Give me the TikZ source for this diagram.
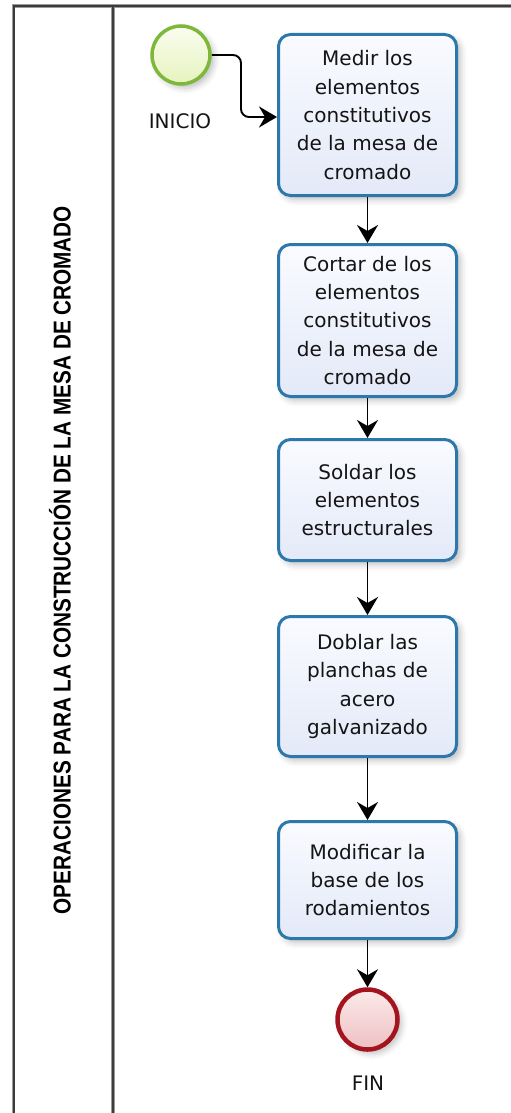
\documentclass[tikz,border=0pt]{standalone}
\usepackage{fontspec}
\setmainfont{DejaVu Sans}
\newfontfamily\titlefont{Liberation Sans}
\usetikzlibrary{arrows.meta,shadows.blur}
\definecolor{boxblue}{HTML}{2C78AB}
\definecolor{boxtop}{HTML}{FAFBFF}
\definecolor{boxbot}{HTML}{E3E9F8}
\definecolor{startgreen}{HTML}{7DB83A}
\definecolor{starttop}{HTML}{FBFDF0}
\definecolor{startbot}{HTML}{E6F3BE}
\definecolor{endred}{HTML}{A3141F}
\definecolor{endtop}{HTML}{FBEAEA}
\definecolor{endbot}{HTML}{EEC0C2}
\definecolor{framedark}{HTML}{3C3C3C}
\definecolor{framelight}{HTML}{9A9A9A}
\definecolor{txt}{HTML}{141414}
\tikzset{
  task/.style={draw=boxblue, line width=3pt, rounded corners=12pt,
    top color=boxtop, bottom color=boxbot, minimum width=178pt,
    inner sep=0pt, align=center, text=txt,
    font=\fontsize{20pt}{28.4pt}\selectfont,
    blur shadow={shadow xshift=4pt, shadow yshift=-4pt, shadow blur radius=6pt, shadow opacity=25}},
  startev/.style={circle, draw=startgreen, line width=3.5pt, minimum size=58pt,
    top color=starttop, bottom color=startbot, inner sep=0pt,
    blur shadow={shadow xshift=4pt, shadow yshift=-4pt, shadow blur radius=6pt, shadow opacity=25}},
  endev/.style={circle, draw=endred, line width=4.5pt, minimum size=60pt,
    top color=endtop, bottom color=endbot, inner sep=0pt,
    blur shadow={shadow xshift=4pt, shadow yshift=-4pt, shadow blur radius=6pt, shadow opacity=25}},
  lbl/.style={text=txt, inner sep=0pt, font=\fontsize{20pt}{24pt}\selectfont},
  flow/.style={draw=black, line width=1.9pt, -{Stealth[length=18pt, width=21pt, inset=6pt]}},
  frameunder/.style={draw=framelight, line width=3.6pt},
  frametop/.style={draw=framedark, line width=2pt},
}
\begin{document}
\begin{tikzpicture}[x=1pt, y=-1pt]
\useasboundingbox (0,0) rectangle (511,1113);
\begin{scope}
  \clip (0,0) rectangle (511,1113);
  \draw[frameunder] (13.5,1120) -- (13.5,6) -- (520,6);
  \draw[frameunder] (113,6) -- (113,1120);
  \draw[frametop] (13.5,1120) -- (13.5,6) -- (520,6);
  \draw[frametop] (113,6) -- (113,1120);
\end{scope}

\node[rotate=90, anchor=base, text=black, inner sep=0pt,
  font=\titlefont\bfseries\fontsize{24.4pt}{28pt}\selectfont] (title) at (70.5,560)
  {\scalebox{0.85}[1]{OPERACIONES PARA LA CONSTRUCCIÓN DE LA MESA DE CROMADO}};

\node[startev] (s) at (181,55) {};
\node[lbl] (sl) at (180,121) {INICIO};

\node[task, minimum height=161pt] (t1) at (367.5,115)
  {Medir los\\elementos\\constitutivos\\de la mesa de\\cromado};
\node[task, minimum height=152pt] (t2) at (367.5,320.5)
  {Cortar de los\\elementos\\constitutivos\\de la mesa de\\cromado};
\node[task, minimum height=121pt] (t3) at (367.5,500)
  {Soldar los\\elementos\\estructurales};
\node[task, minimum height=140pt] (t4) at (367.5,686.5)
  {Doblar las\\planchas de\\acero\\galvanizado};
\node[task, minimum height=117pt] (t5) at (367.5,880)
  {Modificar la\\base de los\\rodamientos};

\node[endev] (e) at (367.5,1019.5) {};
\node[lbl] (el) at (368,1083) {FIN};

\coordinate (k) at (241,117);
\draw[flow, rounded corners=8pt] (s.east) -| (k) -- (k -| t1.west);
\draw[flow] (t1) -- (t2);
\draw[flow] (t2) -- (t3);
\draw[flow] (t3) -- (t4);
\draw[flow] (t4) -- (t5);
\draw[flow] (t5) -- (e);
\end{tikzpicture}
\end{document}
